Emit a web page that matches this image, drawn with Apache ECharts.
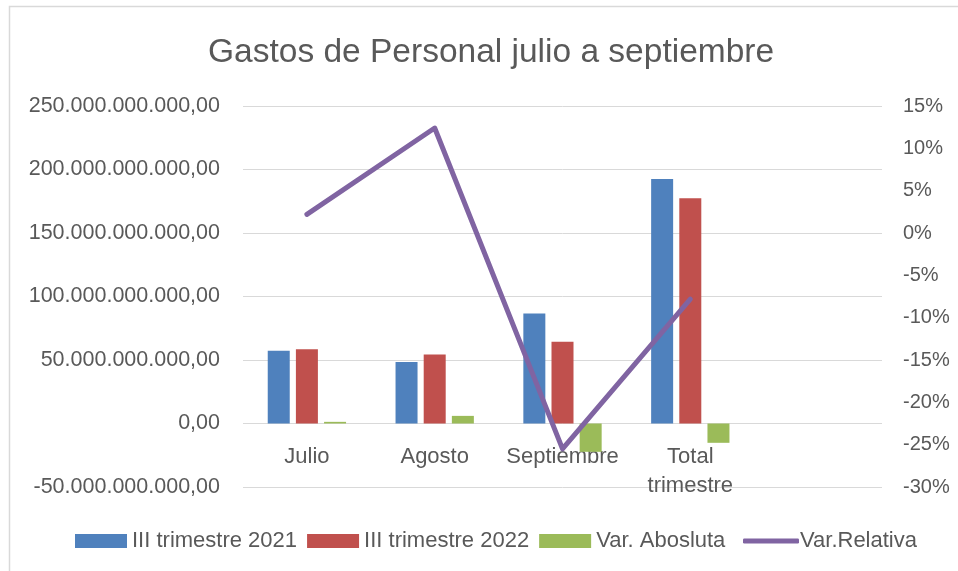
<!DOCTYPE html>
<html>
<head>
<meta charset="utf-8">
<script src="https://cdn.jsdelivr.net/npm/echarts@6/dist/echarts.min.js"></script>
<style>
html, body { margin: 0; padding: 0; background: #fff; }
#chart { width: 958px; height: 571px; }
</style>
</head>
<body>
<div id="chart"></div>
<script>
var categories = ['Julio', 'Agosto', 'Septiembre', 'Total\ntrimestre', ''];
var t2021 = [57.2e9, 48.4e9, 86.6e9, 192.5e9];
var t2022 = [58.5e9, 54.4e9, 64.4e9, 177.4e9];
var var_abs = [1.3e9, 6.0e9, -22.3e9, -15.2e9];
var var_rel = [2.2, 12.4, -25.5, -7.8];

var font = 'Liberation Sans';
var grey = '#595959';

function miles(v) {
    var s = Math.abs(v).toFixed(2).split('.');
    var ent = s[0].replace(/\B(?=(\d{3})+(?!\d))/g, '.');
    return (v < 0 ? '-' : '') + ent + ',' + s[1];
}

// el eje de categorias va sobre el cero del eje izquierdo (-50 .. 250)
var plotH = 571 - 106 - 84;
var zeroOffset = -plotH * 50 / 300;

echarts.init(document.getElementById('chart')).setOption({
    animation: false,
    textStyle: { fontFamily: font },
    title: {
        text: 'Gastos de Personal julio a septiembre',
        left: 203,
        top: 31,
        textStyle: { fontFamily: font, fontSize: 33.5, fontWeight: 'normal', color: grey }
    },
    graphic: [{
        type: 'rect',
        shape: { x: 9.5, y: 6.5, width: 1000, height: 700 },
        style: { fill: 'none', stroke: '#d9d9d9', lineWidth: 1.5 }
    }],
    legend: [{
        left: 70,
        top: 525,
        itemWidth: 52,
        itemHeight: 14,
        itemGap: 10,
        icon: 'rect',
        textStyle: { fontFamily: font, fontSize: 22, color: grey },
        data: ['III trimestre 2021', 'III trimestre 2022', 'Var. Abosluta']
    }, {
        left: 738,
        top: 525,
        itemWidth: 56,
        itemHeight: 5,
        icon: 'roundRect',
        textStyle: { fontFamily: font, fontSize: 22, color: grey, padding: [0, 0, 0, -4] },
        data: ['Var.Relativa']
    }],
    grid: { left: 243, right: 76, top: 106, bottom: 84 },
    xAxis: {
        type: 'category',
        data: categories,
        offset: zeroOffset,
        axisTick: { show: false },
        axisLine: { show: false, onZero: false },
        axisLabel: { interval: 0, margin: 19, fontSize: 22, color: grey, lineHeight: 29 }
    },
    yAxis: [{
        type: 'value',
        min: -50e9,
        max: 250e9,
        interval: 50e9,
        axisLine: { show: false },
        axisTick: { show: false },
        axisLabel: { margin: 23, fontSize: 21.5, color: grey, formatter: miles },
        splitLine: { lineStyle: { color: '#d9d9d9', width: 1 } }
    }, {
        type: 'value',
        min: -30,
        max: 15,
        interval: 5,
        axisLine: { show: false },
        axisTick: { show: false },
        axisLabel: { margin: 21, fontSize: 20, color: grey, formatter: '{value}%' },
        splitLine: { show: false }
    }],
    series: [{
        name: 'III trimestre 2021',
        type: 'bar',
        data: t2021,
        barWidth: 22,
        barGap: '28%',
        itemStyle: { color: '#4F81BD' }
    }, {
        name: 'III trimestre 2022',
        type: 'bar',
        data: t2022,
        barWidth: 22,
        barGap: '28%',
        itemStyle: { color: '#C0504D' }
    }, {
        name: 'Var. Abosluta',
        type: 'bar',
        data: var_abs,
        barWidth: 22,
        barGap: '28%',
        itemStyle: { color: '#9BBB59' }
    }, {
        name: 'Var.Relativa',
        type: 'line',
        yAxisIndex: 1,
        data: var_rel,
        symbol: 'none',
        lineStyle: { color: '#8064A2', width: 5, cap: 'round', join: 'round' },
        itemStyle: { color: '#8064A2' },
        z: 5
    }]
});
</script>
</body>
</html>
